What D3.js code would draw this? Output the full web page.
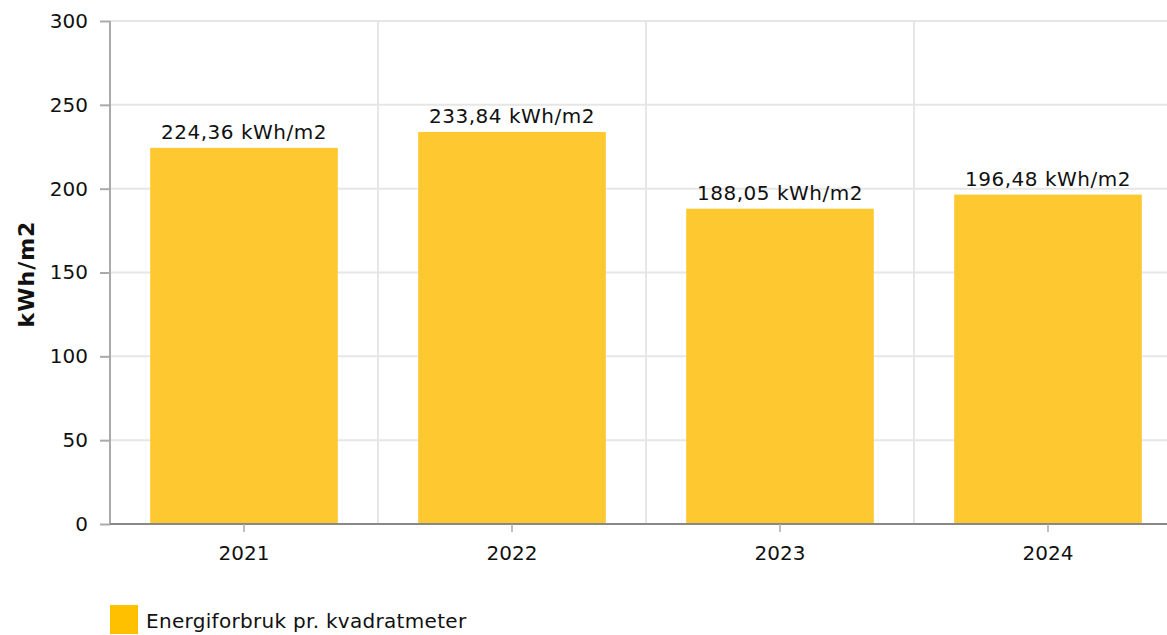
<!DOCTYPE html>
<html><head><meta charset="utf-8">
<script src="https://cdn.jsdelivr.net/npm/d3@7"></script>
<style>body{margin:0;background:#fff}svg{display:block;font-family:"DejaVu Sans",Verdana,sans-serif}</style>
</head><body>
<svg id="c" width="1167" height="635"></svg>
<script>
const categories = ["2021","2022","2023","2024"];
const values = [224.36, 233.84, 188.05, 196.48];
const yTicks = [0,50,100,150,200,250,300];
const seriesName = "Energiforbruk pr. kvadratmeter";
const unit = "kWh/m2";

const svg = d3.select("#c");
const x = d3.scaleBand().domain(categories).range([110,1182]).paddingInner(0.3).paddingOuter(0.15);
const xb = d3.scaleBand().domain(categories).range([110,1182]);
const y = d3.scaleLinear().domain([0,300]).range([524,21]);

// gridlines
svg.append("g").selectAll("line").data(yTicks.slice(1)).join("line")
  .attr("x1",110).attr("x2",1167).attr("y1",d=>y(d)).attr("y2",d=>y(d))
  .attr("stroke","#e6e6e6").attr("stroke-width",2);
svg.append("g").selectAll("line").data(categories.slice(1)).join("line")
  .attr("x1",d=>xb(d)).attr("x2",d=>xb(d)).attr("y1",21).attr("y2",524)
  .attr("stroke","#e6e6e6").attr("stroke-width",2);

// bars
svg.append("g").selectAll("rect").data(values).join("rect")
  .attr("x",(d,i)=>x(categories[i])).attr("width",x.bandwidth())
  .attr("y",d=>y(d)).attr("height",d=>y(0)-y(d)).attr("fill","#fec830");

// labels
svg.append("g").selectAll("text").data(values).join("text")
  .attr("x",(d,i)=>x(categories[i])+x.bandwidth()/2).attr("y",d=>y(d)-9)
  .attr("text-anchor","middle").attr("font-size",20).attr("letter-spacing",0.5).attr("fill","#111")
  .text(d=>d.toFixed(2).replace(".",",")+" "+unit);

// y axis
const ya = svg.append("g").attr("transform","translate(110,0)")
  .call(d3.axisLeft(y).tickValues(yTicks).tickSize(10).tickPadding(12));
ya.select(".domain").attr("stroke","#aaa").attr("stroke-width",2).attr("d","M0,21V524");
ya.selectAll(".tick line").attr("stroke","#aaa").attr("stroke-width",2);
ya.selectAll("text").attr("font-size",20).attr("fill","#111").attr("font-family","DejaVu Sans");

// x axis
const xa = svg.append("g").attr("transform","translate(0,524)")
  .call(d3.axisBottom(xb).tickSize(8).tickPadding(14));
xa.select(".domain").attr("stroke","#888").attr("stroke-width",2).attr("d","M110,0H1167");
xa.selectAll(".tick line").attr("stroke","#aaa").attr("stroke-width",1.5);
xa.selectAll("text").attr("font-size",20).attr("fill","#111").attr("font-family","DejaVu Sans");

// y title
svg.append("text").attr("transform","translate(34,274) rotate(-90)")
  .attr("text-anchor","middle").attr("font-size",22).attr("letter-spacing",1).attr("font-weight","bold").attr("fill","#111")
  .text(unit);

// legend
svg.append("rect").attr("x",110).attr("y",605).attr("width",28).attr("height",29).attr("fill","#ffc000");
svg.append("text").attr("x",146).attr("y",628).attr("font-size",20).attr("letter-spacing",0.3).attr("fill","#111").text(seriesName);
</script>
</body></html>
